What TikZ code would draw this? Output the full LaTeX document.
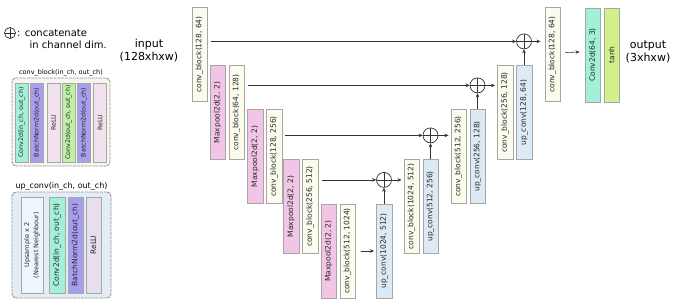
\documentclass[tikz,border=0pt]{standalone}
\usepackage{fontspec}
\setmainfont{DejaVu Sans}
\usepackage{graphicx}
\usetikzlibrary{positioning,arrows.meta}

\definecolor{cbfill}{HTML}{FCFCEE}
\definecolor{mpfill}{HTML}{F2C4E6}
\definecolor{upfill}{HTML}{DCEAF6}
\definecolor{convfill}{HTML}{A3F0D8}
\definecolor{bnfill}{HTML}{A89EF0}
\definecolor{relufill}{HTML}{F2E2EE}
\definecolor{reluupfill}{HTML}{E8DEF0}
\definecolor{conv2fill}{HTML}{BEF0A8}
\definecolor{tanhfill}{HTML}{D2F08C}
\definecolor{upsfill}{HTML}{F0F7FC}
\definecolor{legcb}{HTML}{F6F6EE}
\definecolor{legup}{HTML}{E2EDF6}
\definecolor{linec}{HTML}{333333}

\newcommand{\vtxt}[1]{\rotatebox{90}{#1}}

\begin{document}
\begin{tikzpicture}[x=1pt, y=-1pt, >={Stealth[length=4pt,width=3.6pt]},
  node distance=3pt,
  blk/.style={draw=black!35, line width=0.5pt, inner sep=0pt,
    minimum width=15.5pt, minimum height=94pt, text=black!85,
    font=\fontsize{7.5}{8.5}\selectfont},
  cbk/.style={blk, fill=cbfill},
  mpk/.style={blk, fill=mpfill},
  upk/.style={blk, fill=upfill},
  cat/.style={circle, draw=linec, line width=0.7pt, minimum size=15pt, inner sep=0pt,
    path picture={\draw[linec, line width=0.7pt]
      (path picture bounding box.north) -- (path picture bounding box.south)
      (path picture bounding box.west) -- (path picture bounding box.east);}},
  link/.style={->, draw=linec, line width=0.6pt},
  legbox/.style={draw=black!40, line width=0.9pt, dash pattern=on 3pt off 0.8pt,
    rounded corners=4pt, inner sep=0pt},
  strip/.style={draw=black!35, line width=0.4pt, inner sep=0pt, text=black!85,
    minimum width=13pt, minimum height=79pt, font=\fontsize{6.3}{7}\selectfont},
  ustrip/.style={strip, minimum width=15.5pt, minimum height=96pt,
    font=\fontsize{7.5}{8.5}\selectfont},
  bigtxt/.style={font=\fontsize{11}{13}\selectfont, align=center, inner sep=0pt}]
  \useasboundingbox (0,0) rectangle (677,305);

  % legend
  \node[cat, minimum size=11pt] (lcat) at (10,33) {};
  \node[anchor=west, inner sep=0pt, font=\fontsize{10}{12}\selectfont] (lcattxt) at (17,33) {: concatenate};
  \node[anchor=west, inner sep=0pt, font=\fontsize{10}{12}\selectfont] (lcattxt2) at (29.5,45) {in channel dim.};

  \node[legbox, fill=legcb, minimum width=98pt, minimum height=88pt] (lcb) at (61,122) {};
  \node[above=1pt of lcb, inner sep=0pt, font=\fontsize{6.5}{7}\selectfont] (lcblab) {conv\_block(in\_ch, out\_ch)};
  \node[strip, fill=convfill]  (lc1) at (21.5,122.5) {\vtxt{Conv2d(in\_ch, out\_ch)}};
  \node[strip, fill=bnfill]    (lc2) at (37,122.5)   {\vtxt{BatchNorm2d(out\_ch)}};
  \node[strip, fill=relufill]  (lc3) at (53.5,122.5) {\vtxt{ReLU}};
  \node[strip, fill=conv2fill] (lc4) at (68.5,122.5) {\vtxt{Conv2d(out\_ch, out\_ch)}};
  \node[strip, fill=bnfill]    (lc5) at (84,122.5)   {\vtxt{BatchNorm2d(out\_ch)}};
  \node[strip, fill=relufill]  (lc6) at (100,122.5)  {\vtxt{ReLU}};

  \node[legbox, fill=legup, minimum width=99pt, minimum height=106pt] (lup) at (61.5,245) {};
  \node[above=1pt of lup, inner sep=0pt, font=\fontsize{8}{9}\selectfont] (luplab) {up\_conv(in\_ch, out\_ch)};
  \node[ustrip, fill=upsfill, minimum width=22pt, font=\fontsize{6.5}{7.5}\selectfont] (lu1) at (32,245)
    {\vtxt{\shortstack{Upsample x 2\\(Nearest Neighbour)}}};
  \node[ustrip, fill=convfill]   (lu2) at (57,245)   {\vtxt{Conv2d(in\_ch, out\_ch)}};
  \node[ustrip, fill=bnfill]     (lu3) at (75.5,245) {\vtxt{BatchNorm2d(out\_ch)}};
  \node[ustrip, fill=reluupfill] (lu4) at (93.5,245) {\vtxt{ReLU}};

  % encoder
  \node[bigtxt] (input) at (149,51) {input\\(128xhxw)};
  \node[cbk] (cb1) at (199.5,54.5) {\vtxt{conv\_block(128, 64)}};
  \node[mpk] (mp1) at (217.5,112.5) {\vtxt{Maxpool2d(2, 2)}};
  \node[cbk, right=of mp1] (cb2) {\vtxt{conv\_block(64, 128)}};
  \node[mpk] (mp2) at (255,156.5) {\vtxt{Maxpool2d(2, 2)}};
  \node[cbk, right=of mp2] (cb3) {\vtxt{conv\_block(128, 256)}};
  \node[mpk] (mp3) at (291,206.5) {\vtxt{Maxpool2d(2, 2)}};
  \node[cbk, right=of mp3] (cb4) {\vtxt{conv\_block(256, 512)}};
  \node[mpk] (mp4) at (328.5,251) {\vtxt{Maxpool2d(2, 2)}};
  \node[cbk, right=of mp4] (cb5) {\vtxt{conv\_block(512, 1024)}};

  % decoder
  \node[upk] (up1) at (384,251) {\vtxt{up\_conv(1024, 512)}};
  \node[cbk] (dcb1) at (411.5,206.5) {\vtxt{conv\_block(1024, 512)}};
  \node[upk, right=of dcb1] (up2) {\vtxt{up\_conv(512, 256)}};
  \node[cbk] (dcb2) at (458.5,156.5) {\vtxt{conv\_block(512, 256)}};
  \node[upk, right=of dcb2] (up3) {\vtxt{up\_conv(256, 128)}};
  \node[cbk] (dcb3) at (505,112.5) {\vtxt{conv\_block(256, 128)}};
  \node[upk, right=of dcb3] (up4) {\vtxt{up\_conv(128, 64)}};
  \node[cbk] (dcb4) at (552.5,54.5) {\vtxt{conv\_block(128, 64)}};
  \node[blk, fill=convfill] (outc) at (592.5,55) {\vtxt{Conv2d(64, 3)}};
  \node[blk, fill=tanhfill, right=of outc] (tanh) {\vtxt{tanh}};
  \node[bigtxt] (output) at (648,52) {output\\(3xhxw)};

  \node[cat, above=16pt of up1] (c1) {};
  \node[cat, above=16pt of up2] (c2) {};
  \node[cat, above=16pt of up3] (c3) {};
  \node[cat, above=16pt of up4] (c4) {};

  % skips
  \draw[link] ([xshift=3pt]cb1.east |- c4) -- (c4);
  \draw[link] ([xshift=3pt]cb2.east |- c3) -- (c3);
  \draw[link] ([xshift=3pt]cb3.east |- c2) -- (c2);
  \draw[link] ([xshift=4pt]cb4.east |- c1) -- (c1);
  \draw[link] ([xshift=5pt]cb5.east) -- ([xshift=-2pt]up1.west);

  % up path
  \draw[link] (up1) -- (c1);
  \draw[link] (up2) -- (c2);
  \draw[link] (up3) -- (c3);
  \draw[link] (up4) -- (c4);
  \draw[link] (c1) -- ([xshift=-2pt]c1 -| dcb1.west);
  \draw[link] (c2) -- ([xshift=-2pt]c2 -| dcb2.west);
  \draw[link] (c3) -- ([xshift=-2pt]c3 -| dcb3.west);
  \draw[link] (c4) -- ([xshift=-4pt]c4 -| dcb4.west);
  \draw[link] ([xshift=5pt,yshift=2pt]dcb4.east) -- ([xshift=-5pt]outc.west |- 0,52);
\end{tikzpicture}
\end{document}
